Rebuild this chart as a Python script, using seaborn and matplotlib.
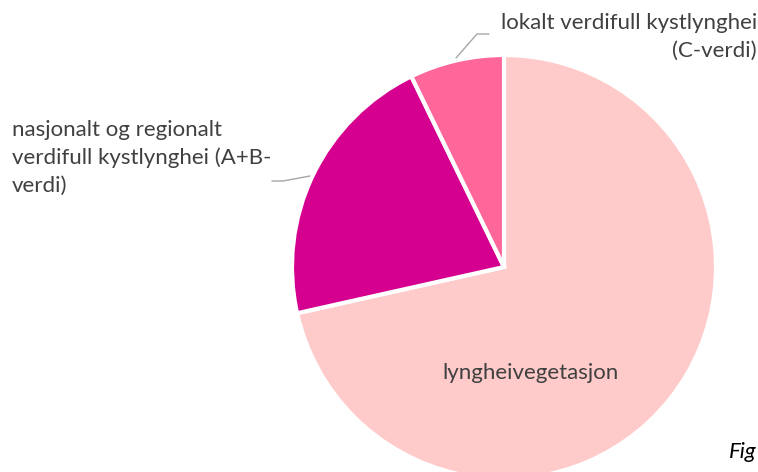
import matplotlib.pyplot as plt
import seaborn as sns
import numpy as np

# share of kystlynghei-areas
categories = ["lyngheivegetasjon",
              "nasjonalt og regionalt\nverdifull kystlynghei (A+B-\nverdi)",
              "lokalt verdifull kystlynghei\n(C-verdi)"]
values = [71.5, 21.3, 7.2]
colors = ["#FFCACA", "#D5008F", "#FF6699"]

sns.set_theme(style="white")
plt.rcParams['font.family'] = ['Lato', 'DejaVu Sans']

fig = plt.figure(figsize=(7.58, 4.72), dpi=100)
W, H = 758, 472
cx, cy, r = 504, 267, 212
ax = fig.add_axes([(cx - r) / W, (H - cy - r) / H, 2 * r / W, 2 * r / H])

wedges, _ = ax.pie(values, colors=colors, startangle=90, counterclock=False,
                   radius=1, wedgeprops=dict(edgecolor="white", linewidth=3))
ax.set_xlim(-1, 1)
ax.set_ylim(-1, 1)
ax.set_aspect("equal")
ax.axis("off")

txt = "#404040"
fs = 16
# label inside the big slice
fig.text(531 / W, 1 - 373 / H, categories[0], ha="center", va="center",
         fontsize=fs, color=txt)

# left label
fig.text(12 / W, 1 - 158 / H, categories[1], ha="left", va="center",
         fontsize=fs, color=txt, linespacing=1.45)
# right label
fig.text(757 / W, 1 - 37 / H, categories[2], ha="right", va="center",
         fontsize=fs, color=txt, linespacing=1.45)

def to_data(px, py):
    return (px - cx) / r, (cy - py) / r

# leader lines (pixel anchors converted to data units)
for pts in ([(272, 181), (283, 181), (310, 176)],
            [(489, 34), (477, 34), (456, 58)]):
    xy = np.array([to_data(*p) for p in pts])
    ax.plot(xy[:, 0], xy[:, 1], color="#A6A6A6", lw=1, clip_on=False)

fig.text(757 / W, 1 - 452 / H, "Fig", ha="right", va="center",
         fontsize=fs, color="black", style="italic")

fig.savefig("out.png", dpi=100)
